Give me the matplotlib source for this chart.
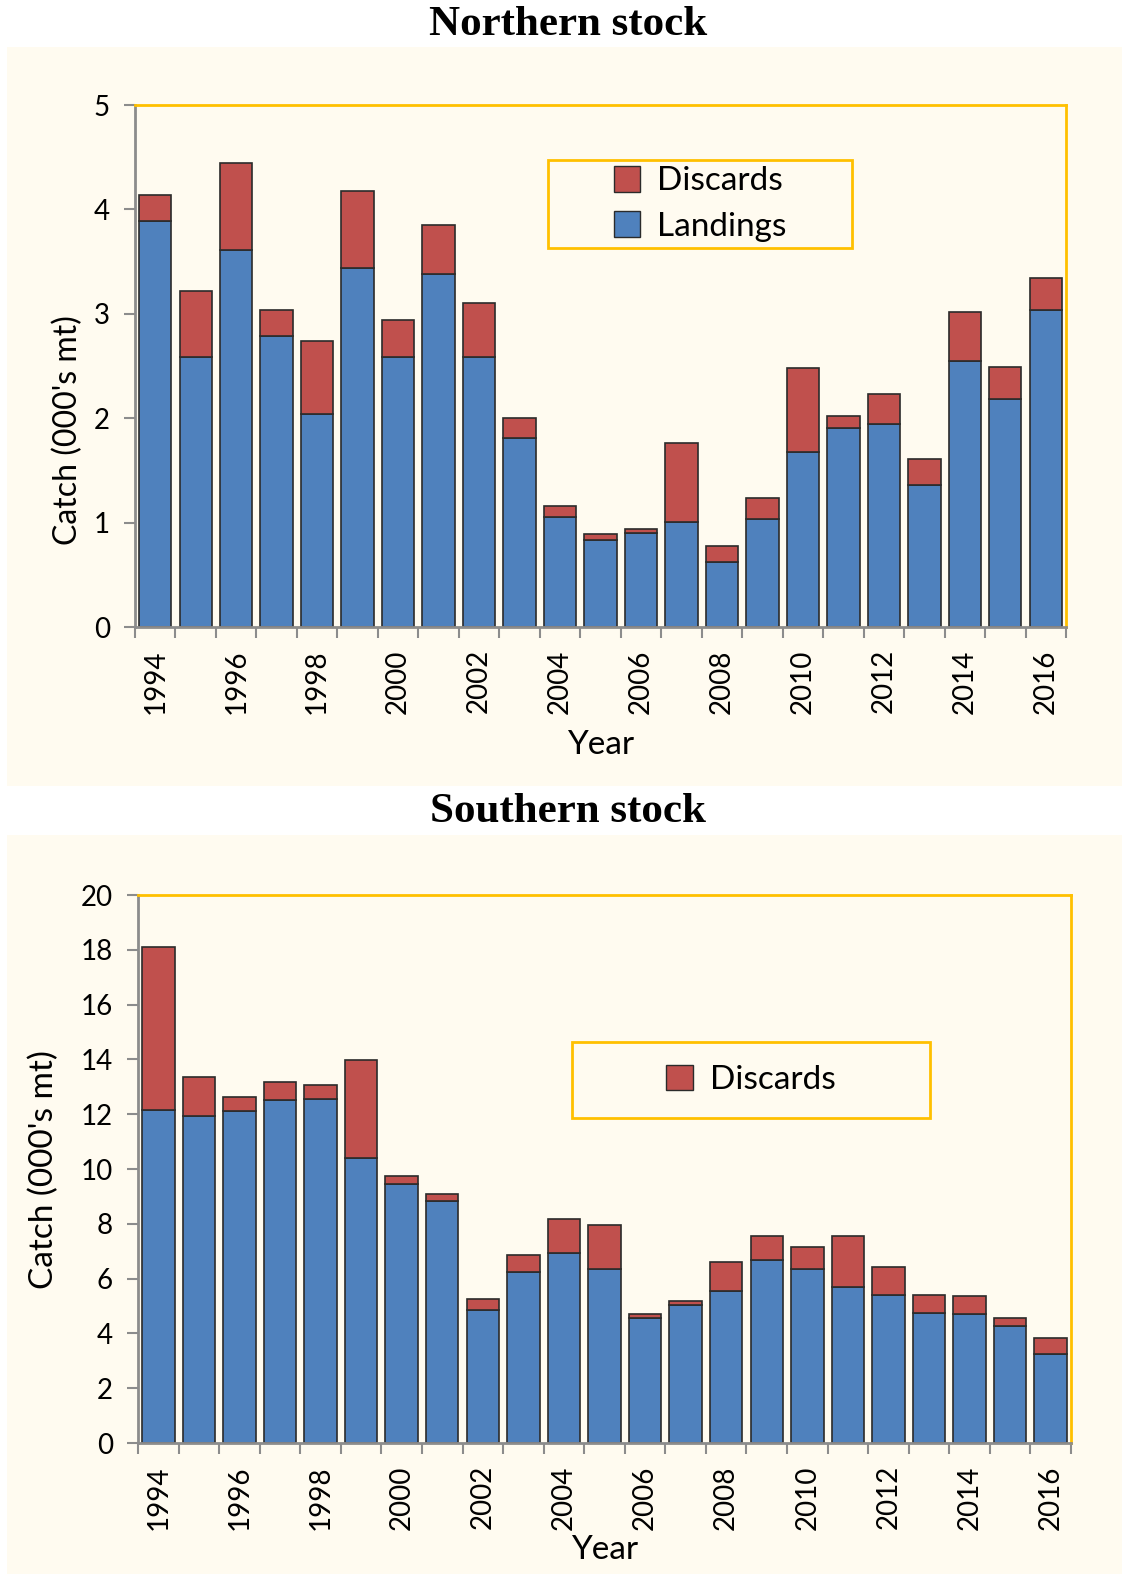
import numpy as np
import matplotlib
matplotlib.use("Agg")
import matplotlib.pyplot as plt
from matplotlib.patches import Rectangle, Patch

years = list(range(1994, 2017))

north_landings = [3.89, 2.59, 3.61, 2.79, 2.04, 3.44, 2.59, 3.38, 2.59, 1.81, 1.05, 0.83,
                  0.90, 1.01, 0.62, 1.03, 1.68, 1.91, 1.94, 1.36, 2.55, 2.18, 3.04]
north_discards = [0.25, 0.63, 0.83, 0.25, 0.70, 0.74, 0.35, 0.47, 0.51, 0.19, 0.11, 0.06,
                  0.04, 0.75, 0.16, 0.21, 0.80, 0.11, 0.29, 0.25, 0.47, 0.31, 0.30]

south_landings = [12.15, 11.95, 12.11, 12.51, 12.55, 10.40, 9.45, 8.84, 4.84, 6.25, 6.95, 6.36,
                  4.56, 5.05, 5.55, 6.69, 6.36, 5.71, 5.40, 4.76, 4.70, 4.26, 3.25]
south_discards = [5.97, 1.41, 0.50, 0.65, 0.50, 3.56, 0.31, 0.23, 0.42, 0.62, 1.21, 1.60,
                  0.13, 0.15, 1.05, 0.88, 0.80, 1.86, 1.01, 0.64, 0.66, 0.30, 0.57]

RED = "#C0504D"
BLUE = "#4F81BD"
CREAM = "#FFFBF0"
ORANGE = "#FFC000"
GRAY = "#8C8C8C"
FONT = "Lato"

W, H = 1127, 1574
fig = plt.figure(figsize=(W / 100, H / 100), dpi=100, facecolor="white")


def fx(px):
    return px / W


def fy(py):
    return 1 - py / H


def fig_rect(x0, y0, x1, y1, **kw):
    # rectangle given in pixel coords (top-left origin)
    r = Rectangle((fx(x0), fy(y1)), fx(x1) - fx(x0), fy(y0) - fy(y1),
                  transform=fig.transFigure, **kw)
    fig.patches.append(r)
    return r


def panel(box, landings, discards, ymax, ystep, title, title_y, ylab_xy, ylab_size,
          year_y, legend_box, labels):
    x0, y0, x1, y1 = box
    ax = fig.add_axes([fx(x0), fy(y1), fx(x1) - fx(x0), fy(y0) - fy(y1)])
    ax.set_facecolor(CREAM)
    x = np.arange(len(years))
    ax.bar(x, landings, width=0.8, color=BLUE, edgecolor="#2b2b2b", linewidth=1.2,
           label="Landings")
    ax.bar(x, discards, bottom=landings, width=0.8, color=RED, edgecolor="#2b2b2b",
           linewidth=1.2, label="Discards")
    ax.set_xlim(-0.5, len(years) - 0.5)
    ax.set_ylim(0, ymax)
    ticks = np.arange(0, ymax + 0.01, ystep)
    ax.set_yticks(ticks)
    ax.set_yticklabels([str(int(v)) for v in ticks], fontsize=20, family=FONT)
    ax.tick_params(axis="y", length=8, width=1.5, color=GRAY, pad=10)
    # category boundary ticks (Excel style) and labels on every other year
    ax.set_xticks(np.arange(-0.5, len(years), 1.0))
    ax.set_xticklabels([])
    ax.tick_params(axis="x", which="major", length=8, width=1.5, color=GRAY)
    ax.set_xticks(x[::2], minor=True)
    ax.set_xticklabels([str(y) for y in years[::2]], minor=True, rotation=90,
                       fontsize=20, family=FONT)
    ax.tick_params(axis="x", which="minor", length=0, pad=16)
    for s in ("left", "bottom"):
        ax.spines[s].set_color(GRAY)
        ax.spines[s].set_linewidth(2)
    for s in ("top", "right"):
        ax.spines[s].set_color(ORANGE)
        ax.spines[s].set_linewidth(2)
    ax.set_zorder(2)

    fig.text(fx(568), fy(title_y), title, ha="center", va="center", fontsize=31,
             fontweight="bold", family="Liberation Serif")
    fig.text(fx(ylab_xy[0]), fy(ylab_xy[1]), "Catch (000's mt)", rotation=90,
             ha="center", va="center", fontsize=ylab_size, family=FONT)
    fig.text(fx((x0 + x1) / 2), fy(year_y), "Year", ha="center", va="center",
             fontsize=24, family=FONT)

    lx0, ly0, lx1, ly1 = legend_box
    fig_rect(lx0, ly0, lx1, ly1, facecolor="none", edgecolor=ORANGE, linewidth=2,
             zorder=5)
    handles = {"Discards": Patch(facecolor=RED, edgecolor="#2b2b2b"),
               "Landings": Patch(facecolor=BLUE, edgecolor="#2b2b2b")}
    pos = ax.get_position()
    anchor = ((fx((lx0 + lx1) / 2) - pos.x0) / pos.width,
              (fy((ly0 + ly1) / 2) - pos.y0) / pos.height)
    ax.legend([handles[l] for l in labels], labels, frameon=False,
              loc="center", prop={"family": FONT, "size": 24},
              bbox_to_anchor=anchor,
              handlelength=0.8, handleheight=0.8, handletextpad=0.5, labelspacing=0.45)
    return ax


# cream panel backgrounds
fig_rect(7, 47, 1122, 786, facecolor=CREAM, edgecolor="none", zorder=0)
fig_rect(7, 835, 1122, 1574, facecolor=CREAM, edgecolor="none", zorder=0)

panel((135, 105, 1066, 627), north_landings, north_discards, 5, 1,
      "Northern stock", 25, (68, 430), 23, 745, (548, 160, 852, 248),
      ["Discards", "Landings"])
panel((138, 895, 1071, 1443), south_landings, south_discards, 20, 2,
      "Southern stock", 812, (44, 1170), 24, 1550, (572, 1042, 930, 1118),
      ["Discards"])

fig.savefig("out.png", dpi=100, facecolor="white")
